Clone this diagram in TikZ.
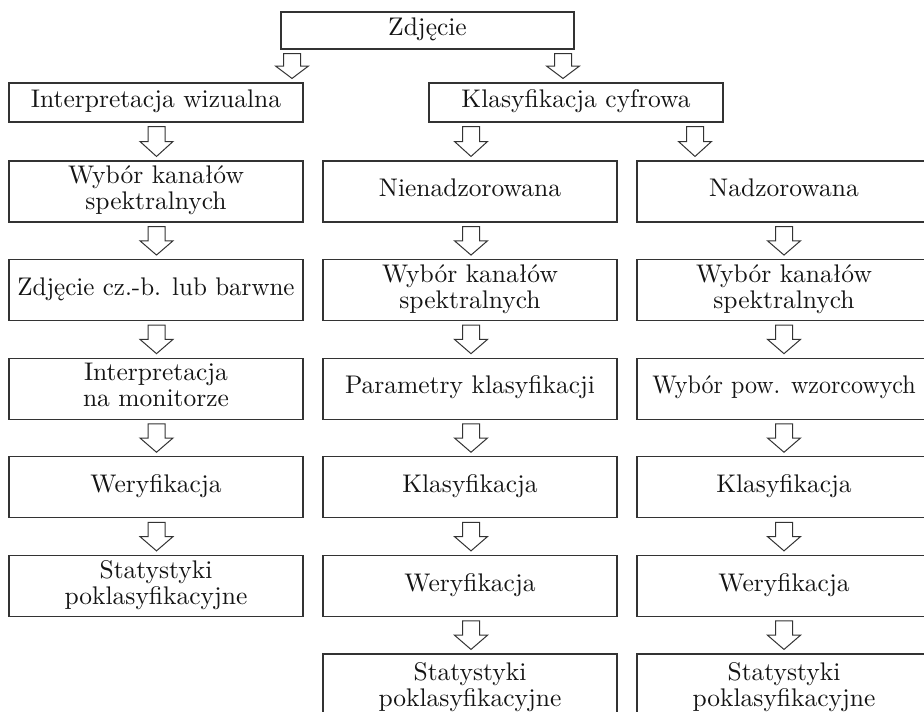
\documentclass[tikz,border=0pt]{standalone}
\usepackage{graphicx}
\usetikzlibrary{calc}
\definecolor{linec}{HTML}{333333}
\definecolor{textc}{HTML}{141414}
\newcommand\bt[2][2.55]{\scalebox{#1}[2.55]{\fontsize{10}{10.2}\selectfont\begin{tabular}{@{}c@{}}#2\end{tabular}}}
\tikzset{
  box/.style={draw=linec, line width=1.1pt, rectangle, inner sep=0pt, align=center,
    text=textc, minimum width=294pt, minimum height=61pt},
  arr/.style={draw=linec, line width=1pt, fill=white, line join=miter},
}
% hollow block arrow at absolute x (#1) from node #2 down to node #3
\newcommand\harrow[3]{%
  \draw[arr] let \p1=(#1,0 |- #2.south), \p2=(#1,0 |- #3.north), \n1={(\y1+\y2)/2} in
    (\x1-8.5pt,\y1-4pt) -- (\x1+8.5pt,\y1-4pt) -- (\x1+8.5pt,\n1) -- (\x1+16.5pt,\n1)
    -- (\x1,\y2+4pt) -- (\x1-16.5pt,\n1) -- (\x1-8.5pt,\n1) -- cycle;
}
\begin{document}
\begin{tikzpicture}[x=1pt,y=-1pt]
\useasboundingbox (0,0) rectangle (924,712);
% top
\node[box, minimum width=293pt, minimum height=37pt] (z) at (427.5,30.5) {\bt{Zdjęcie}};
\node[box, minimum height=39pt] (iw) at (156,102.5) {\bt{Interpretacja wizualna}};
\node[box, minimum height=39pt] (kc) at (576,102.5) {\bt{Klasyfikacja cyfrowa}};
% column 1
\node[box] (a2) at (156,191.5) {\bt{Wybór kanałów\\spektralnych}};
\node[box] (a3) at (156,290.1) {\bt[2.5]{Zdjęcie cz.-b. lub barwne}};
\node[box] (a4) at (156,388.7) {\bt{Interpretacja\\na monitorze}};
\node[box] (a5) at (156,487.3) {\bt{Weryfikacja}};
\node[box] (a6) at (156,585.9) {\bt{Statystyki\\poklasyfikacyjne}};
% column 2
\node[box] (b2) at (470,191.5) {\bt{Nienadzorowana}};
\node[box] (b3) at (470,290.1) {\bt{Wybór kanałów\\spektralnych}};
\node[box] (b4) at (470,388.7) {\bt{Parametry klasyfikacji}};
\node[box] (b5) at (470,487.3) {\bt{Klasyfikacja}};
\node[box] (b6) at (470,585.9) {\bt{Weryfikacja}};
\node[box, minimum height=68pt] (b7) at (470,688) {\bt{Statystyki\\poklasyfikacyjne}};
% column 3
\node[box] (c2) at (784,191.5) {\bt{Nadzorowana}};
\node[box] (c3) at (784,290.1) {\bt{Wybór kanałów\\spektralnych}};
\node[box] (c4) at (784,388.7) {\bt[2.4]{Wybór pow. wzorcowych}};
\node[box] (c5) at (784,487.3) {\bt{Klasyfikacja}};
\node[box] (c6) at (784,585.9) {\bt{Weryfikacja}};
\node[box, minimum height=68pt] (c7) at (784,688) {\bt{Statystyki\\poklasyfikacyjne}};
% arrows
\harrow{292}{z}{iw}
\harrow{563}{z}{kc}
\harrow{156.5}{iw}{a2}
\harrow{156.5}{a2}{a3}
\harrow{156.5}{a3}{a4}
\harrow{156.5}{a4}{a5}
\harrow{156.5}{a5}{a6}
\harrow{471}{kc}{b2}
\harrow{471}{b2}{b3}
\harrow{471}{b3}{b4}
\harrow{471}{b4}{b5}
\harrow{471}{b5}{b6}
\harrow{471}{b6}{b7}
\harrow{695}{kc}{c2}
\harrow{784}{c2}{c3}
\harrow{784}{c3}{c4}
\harrow{784}{c4}{c5}
\harrow{784}{c5}{c6}
\harrow{784}{c6}{c7}
\end{tikzpicture}
\end{document}
